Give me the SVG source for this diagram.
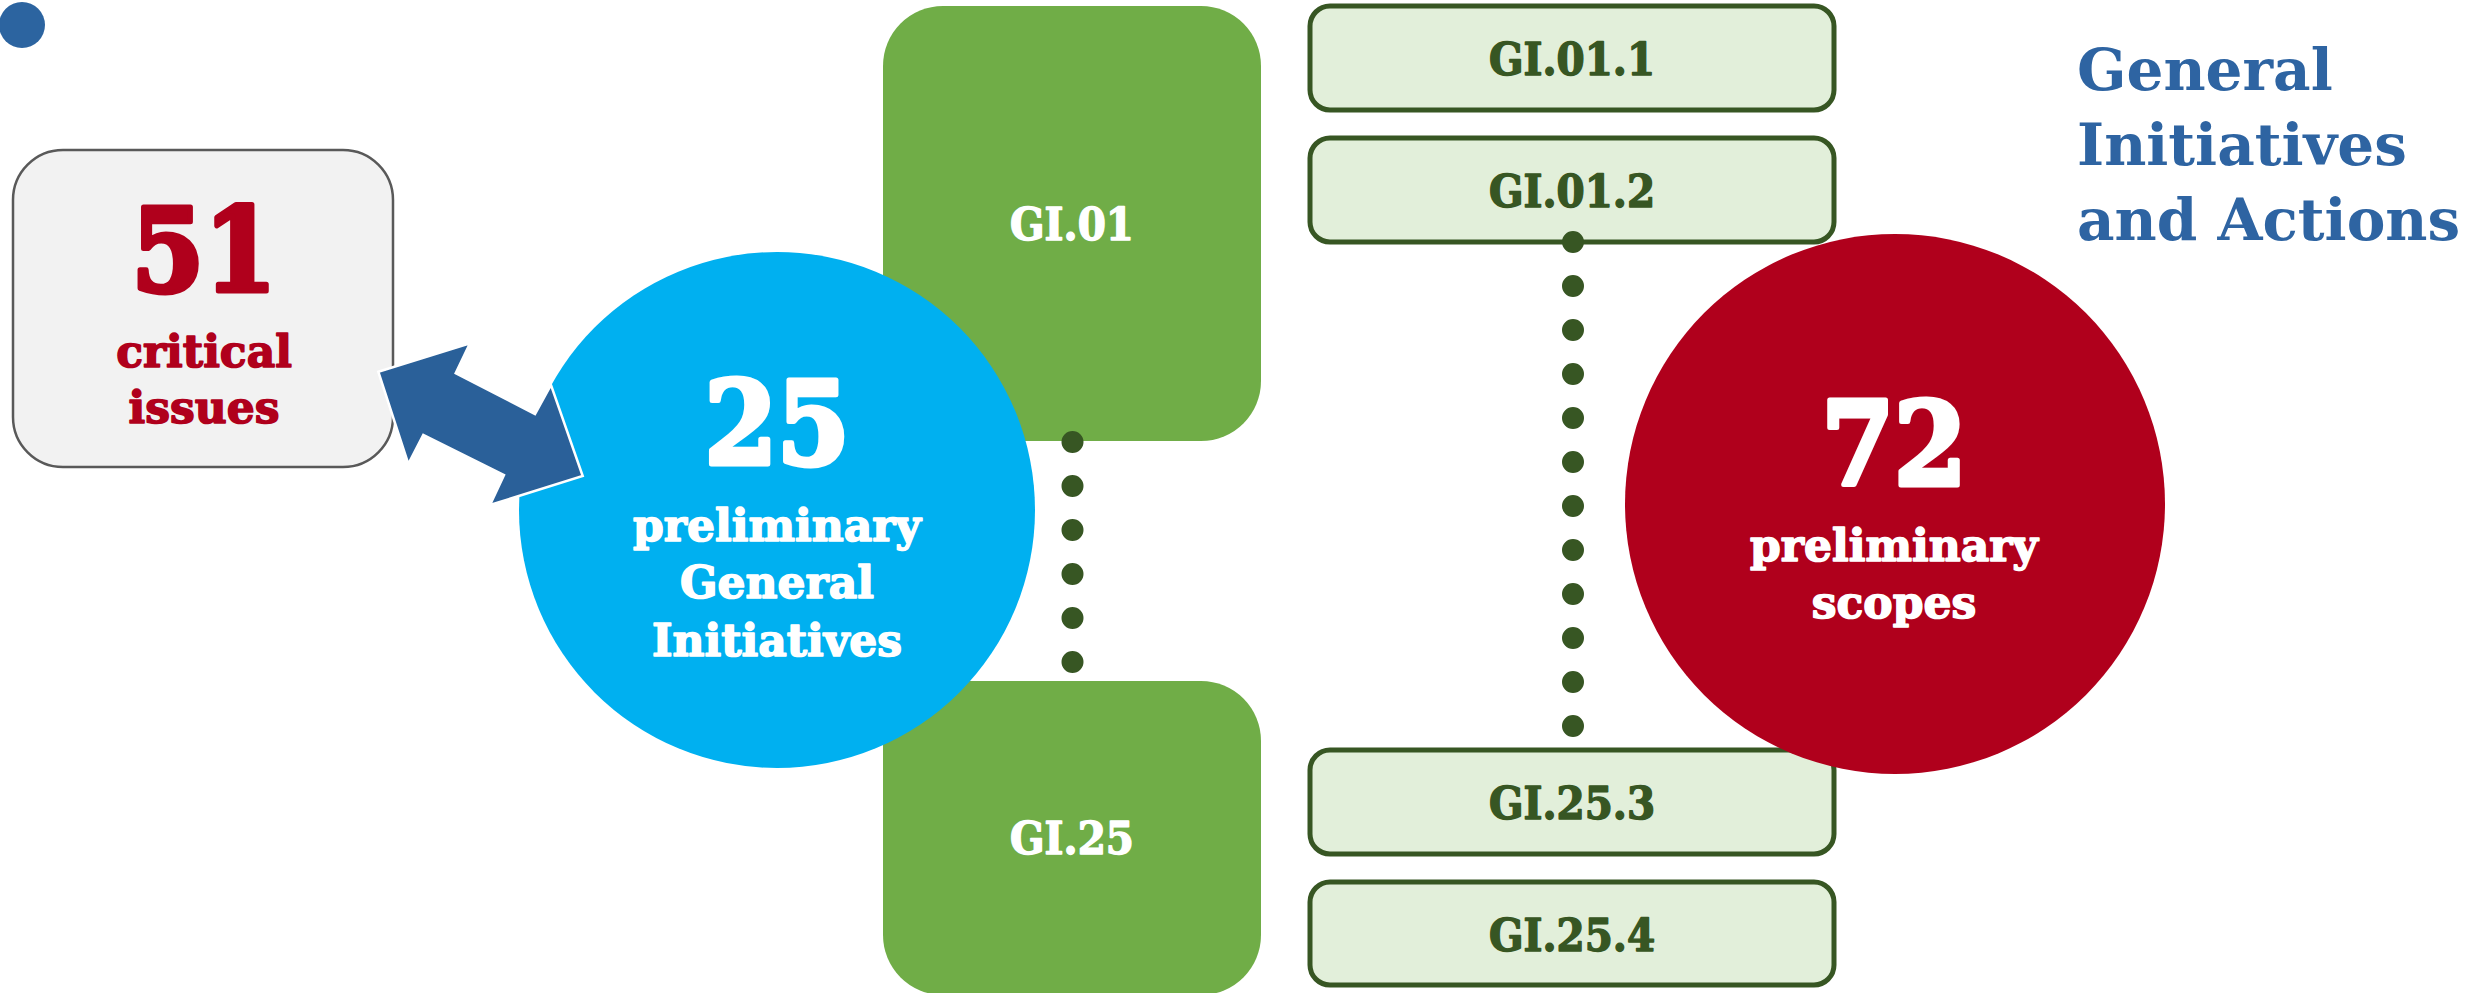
<svg xmlns="http://www.w3.org/2000/svg" width="2478" height="993" viewBox="0 0 2478 993">
<style>
.t{font-family:"DejaVu Serif","Liberation Serif",serif;font-weight:bold;text-anchor:middle;stroke-linejoin:round}
.big{font-family:"DejaVu Serif Condensed","DejaVu Serif",serif;font-stretch:condensed;font-size:116px;stroke-width:5}
.mid{font-size:44px;stroke-width:1.6}
.gi{font-family:"DejaVu Serif Condensed","DejaVu Serif",serif;font-stretch:condensed;font-weight:bold;font-size:45px;text-anchor:middle;stroke-width:1.4;stroke-linejoin:round}
.gw{fill:#FFFFFF;stroke:#FFFFFF}
.gd{fill:#375623;stroke:#375623}
.rd{fill:#B0001C;stroke:#B0001C}
.big-rect{fill:#70AD47}
.sub{fill:#E2EFDA;stroke:#375623;stroke-width:5}
.dots{stroke:#375623;stroke-width:22;stroke-linecap:round;stroke-dasharray:0 44;fill:none}
.title{font-family:"DejaVu Serif","Liberation Serif",serif;font-weight:bold;font-size:58px;fill:#2E64A2}
</style>
<rect width="2478" height="993" fill="#FFFFFF"/>
<g id="bullet"><circle cx="22" cy="25" r="23" fill="#2C64A0"/></g>
<g id="critical-issues">
<rect x="13" y="150" width="380" height="317" rx="50" ry="50" fill="#F2F2F2" stroke="#595959" stroke-width="2.5"/>
<text class="t big rd" x="204" y="291">51</text>
<text class="t mid rd" x="204" y="367">critical</text>
<text class="t mid rd" x="204" y="423">issues</text>
</g>
<g id="gi01">
<rect class="big-rect" x="883" y="6" width="378" height="435" rx="60" ry="60"/>
<text class="gi gw" x="1072" y="240">GI.01</text>
</g>
<g id="gi25">
<rect class="big-rect" x="883" y="681" width="378" height="314" rx="60" ry="60"/>
<text class="gi gw" x="1072" y="854">GI.25</text>
</g>
<g id="gi01-1">
<rect class="sub" x="1310" y="6" width="524" height="104" rx="20" ry="20"/>
<text class="gi gd" x="1572" y="75">GI.01.1</text>
</g>
<g id="gi01-2">
<rect class="sub" x="1310" y="138" width="524" height="104" rx="20" ry="20"/>
<text class="gi gd" x="1572" y="207">GI.01.2</text>
</g>
<g id="gi25-3">
<rect class="sub" x="1310" y="750" width="524" height="104" rx="20" ry="20"/>
<text class="gi gd" x="1572" y="819">GI.25.3</text>
</g>
<g id="gi25-4">
<rect class="sub" x="1310" y="882" width="524" height="103" rx="20" ry="20"/>
<text class="gi gd" x="1572" y="951">GI.25.4</text>
</g>
<g id="general-initiatives">
<circle cx="777" cy="510" r="258" fill="#00B0F0"/>
<text class="t big gw" x="777" y="464">25</text>
<text class="t mid gw" x="777" y="541">preliminary</text>
<text class="t mid gw" x="777" y="598">General</text>
<text class="t mid gw" x="777" y="656">Initiatives</text>
</g>
<g id="scopes">
<circle cx="1895" cy="504" r="270" fill="#B0001C"/>
<text class="t big gw" x="1894" y="485">72</text>
<text class="t mid gw" x="1894" y="561">preliminary</text>
<text class="t mid gw" x="1894" y="618">scopes</text>
</g>
<g id="title">
<text class="title" x="2077" y="90">General</text>
<text class="title" x="2077" y="165">Initiatives</text>
<text class="title" x="2077" y="240">and Actions</text>
</g>
<g id="connectors">
<line class="dots" x1="1072.5" y1="442" x2="1072.5" y2="663"/>
<line class="dots" x1="1573" y1="242" x2="1573" y2="727"/>
<polygon points="378.3,371.7 470,343.3 455.7,373.3 535,414 551,385 582.7,476 490,505 504,475 423.3,435 408.3,464" fill="#2A6099" stroke="#FFFFFF" stroke-width="2.5" stroke-linejoin="miter"/>
</g>
</svg>
